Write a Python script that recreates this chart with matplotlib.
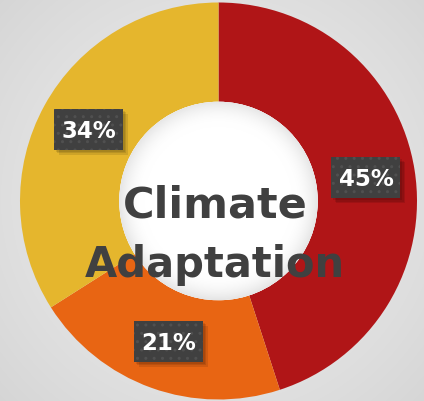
import numpy as np
import matplotlib
matplotlib.use("Agg")
import matplotlib.pyplot as plt
from matplotlib.patches import Rectangle, Circle

# Data
categories = ["Segment A", "Segment B", "Segment C"]
values = [45, 21, 34]
colors = ["#B01517", "#E86513", "#E5B62D"]
center_lines = ["Climate", "Adaptation"]

W, H, DPI = 424, 402, 100
fig = plt.figure(figsize=(W / DPI, H / DPI), dpi=DPI)

# background gradient
bg = fig.add_axes([0, 0, 1, 1])
yy, xx = np.mgrid[0:H, 0:W]
d = np.sqrt(((xx - 215) / 300.0) ** 2 + ((yy - 200) / 300.0) ** 2)
g = np.clip(0.925 - 0.09 * d ** 1.5, 0, 1)
bg.imshow(np.dstack([g, g, g]), extent=[0, 1, 0, 1], aspect="auto", zorder=0)
bg.set_axis_off()

ax = fig.add_axes([0, 0, 1, 1])
ax.patch.set_alpha(0)
R = 198.5
cx, cy = 218.5, 200.0
ax.set_xlim(-cx / R, (W - cx) / R)
ax.set_ylim(-cy / R, (H - cy) / R)

wedges, texts, autotexts = ax.pie(
    values, colors=colors, startangle=90, counterclock=False, radius=1.0,
    wedgeprops=dict(width=0.5, linewidth=0),
    autopct=lambda p: f"{p:.0f}%", pctdistance=0.75,
    textprops=dict(color="white", fontsize=16.5, fontweight="bold",
                   family="DejaVu Sans"))
ax.set_aspect("auto")
ax.set_xlim(-cx / R, (W - cx) / R)
ax.set_ylim(-cy / R, (H - cy) / R)
ax.set_axis_off()

# hole with soft inner shading
ri = 0.5
hole = Circle((0, 0), ri, facecolor="white", edgecolor="none", zorder=2)
ax.add_patch(hole)
n = 300
gy, gx = np.mgrid[-1:1:n * 1j, -1:1:n * 1j]
rr = np.sqrt(gx ** 2 + gy ** 2)
shade = np.clip(1.0 - 0.10 * np.clip((rr - 0.75) / 0.25, 0, 1) ** 2, 0, 1)
im = ax.imshow(np.dstack([shade, shade, shade]), extent=[-ri, ri, -ri, ri],
               zorder=2.1, aspect="auto")
im.set_clip_path(Circle((0, 0), ri, transform=ax.transData))

# label boxes
bw, bh = 69 / R, 41 / R
for t in autotexts:
    x, y = t.get_position()
    for k, a in enumerate([0.10, 0.10, 0.10]):
        off = (2 + k * 1.5) / R
        ax.add_patch(Rectangle((x - bw / 2 + off, y - bh / 2 - off), bw, bh,
                               facecolor="black", alpha=a, edgecolor="none",
                               zorder=3))
    ax.add_patch(Rectangle((x - bw / 2, y - bh / 2), bw, bh,
                           facecolor="#404040", edgecolor="none", zorder=3.5))
    ax.add_patch(Rectangle((x - bw / 2, y - bh / 2), bw, bh,
                           facecolor="none", edgecolor="#505050", hatch="..",
                           linewidth=0, zorder=3.6))
    t.set_zorder(4)
    t.set_ha("center")
    t.set_va("center")
    t.set_position((x + 0.5 / R, y - 1 / R))

# center text
ax.text((215 - cx) / R, (H - 217 - cy) / R, center_lines[0], ha="center",
        va="baseline", fontsize=31, fontweight="bold", color="#404040",
        family="DejaVu Sans", zorder=5)
ax.text((214.5 - cx) / R, (H - 277 - cy) / R, center_lines[1], ha="center",
        va="baseline", fontsize=30, fontweight="bold", color="#404040",
        family="DejaVu Sans", zorder=5)

fig.savefig("out.png", dpi=DPI)
